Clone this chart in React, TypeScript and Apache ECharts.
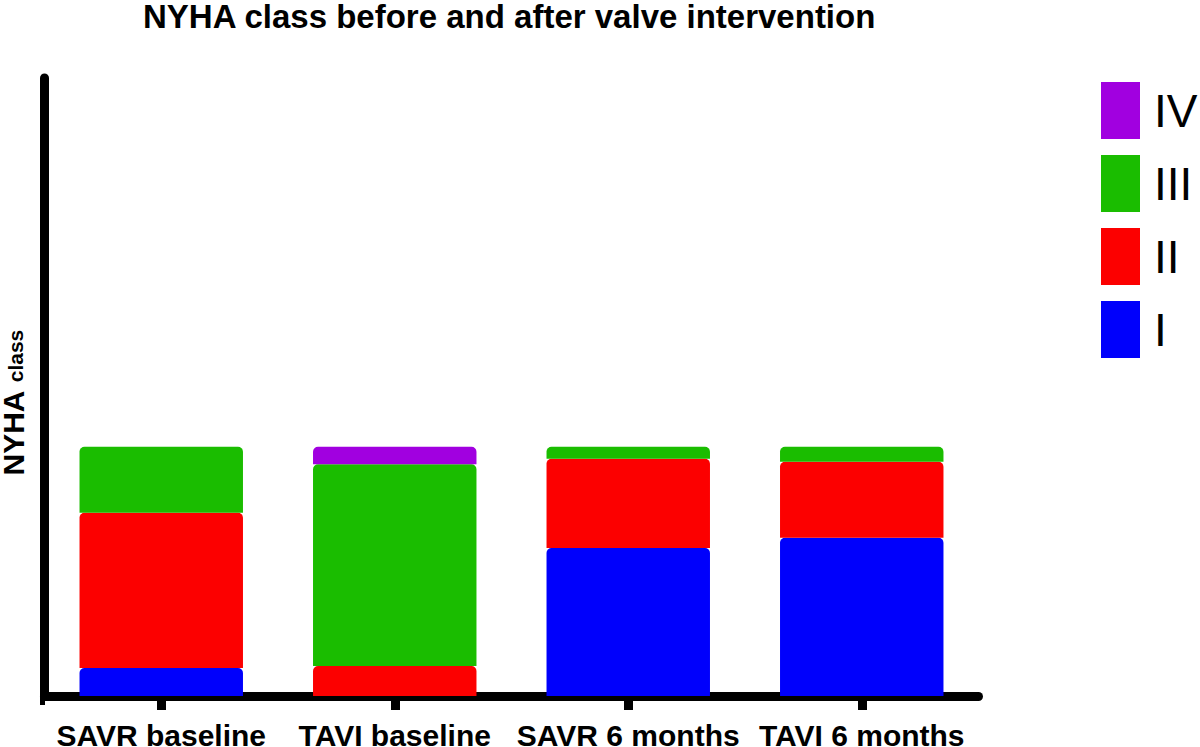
import React, { useEffect, useRef } from "react";
import * as echarts from "echarts";

const categories = ["SAVR baseline", "TAVI baseline", "SAVR 6 months", "TAVI 6 months"];
const classI = [11.2, 0, 59.4, 63.5];
const classII = [62.3, 12, 35.8, 30.5];
const classIII = [26.5, 81, 4.8, 6];
const classIV = [0, 7, 0, 0];
const legendOrder = ["IV", "III", "II", "I"];

const FONT = "Liberation Sans, Arial, Helvetica, sans-serif";

export default function App() {
  const ref = useRef<HTMLDivElement>(null);
  useEffect(() => {
    if (!ref.current) return;
    const chart = echarts.init(ref.current, null, { renderer: "svg" });
    const mk = (name: string, data: number[], color: string) => ({
      name,
      type: "bar",
      stack: "total",
      data,
      barWidth: "70%",
      itemStyle: { color, borderRadius: [5, 5, 0, 0] },
      emphasis: { disabled: true },
    });
    chart.setOption({
      animation: false,
      backgroundColor: "#ffffff",
      title: {
        text: "NYHA class before and after valve intervention",
        left: 143,
        top: 0,
        padding: 0,
        textStyle: { fontFamily: FONT, fontSize: 33, fontWeight: "bold", color: "#000" },
      },
      legend: {
        data: legendOrder,
        orient: "vertical",
        left: 1101,
        top: 82,
        padding: 0,
        itemWidth: 39,
        itemHeight: 57,
        itemGap: 16,
        icon: "rect",
        selectedMode: false,
        textStyle: { fontFamily: FONT, fontSize: 46, color: "#000", padding: [0, 0, 0, 9] },
      },
      grid: {
        left: 44.5,
        right: 221.5,
        top: 78,
        bottom: 51,
        containLabel: false,
        outerBoundsMode: "none",
      },
      xAxis: {
        type: "category",
        data: categories,
        offset: 4.5,
        axisLine: { show: true, lineStyle: { color: "#000", width: 9 } },
        axisTick: { show: true, alignWithLabel: true, length: 14, lineStyle: { color: "#000", width: 9 } },
        axisLabel: {
          margin: 23.5,
          interval: 0,
          fontFamily: FONT,
          fontSize: 30,
          lineHeight: 22,
          fontWeight: "bold",
          color: "#000",
        },
      },
      yAxis: {
        type: "value",
        min: 0,
        max: 248,
        axisLine: { show: true, lineStyle: { color: "#000", width: 9 } },
        axisTick: { show: false },
        axisLabel: { show: false },
        splitLine: { show: false },
      },
      graphic: [
        {
          type: "rect",
          shape: { x: 40, y: 695, width: 5, height: 10 },
          style: { fill: "#000" },
        },
        {
          type: "text",
          x: 13,
          y: 433,
          rotation: Math.PI / 2,
          style: {
            text: "NYHA",
            align: "center",
            verticalAlign: "middle",
            fill: "#000",
            fontFamily: FONT,
            fontSize: 30,
            lineHeight: 22,
            fontWeight: "bold",
          },
        },
        {
          type: "text",
          x: 15.5,
          y: 356,
          rotation: Math.PI / 2,
          style: {
            text: "class",
            align: "center",
            verticalAlign: "middle",
            fill: "#000",
            fontFamily: FONT,
            fontSize: 21,
            fontWeight: "bold",
          },
        },
      ],
      series: [
        mk("I", classI, "#0000fc"),
        mk("II", classII, "#fc0000"),
        mk("III", classIII, "#1abd00"),
        mk("IV", classIV, "#a100e0"),
      ],
    });
    return () => chart.dispose();
  }, []);
  return (
    <div
      ref={ref}
      style={{ position: "fixed", left: 0, top: 0, width: 1200, height: 747, background: "#fff" }}
    />
  );
}
